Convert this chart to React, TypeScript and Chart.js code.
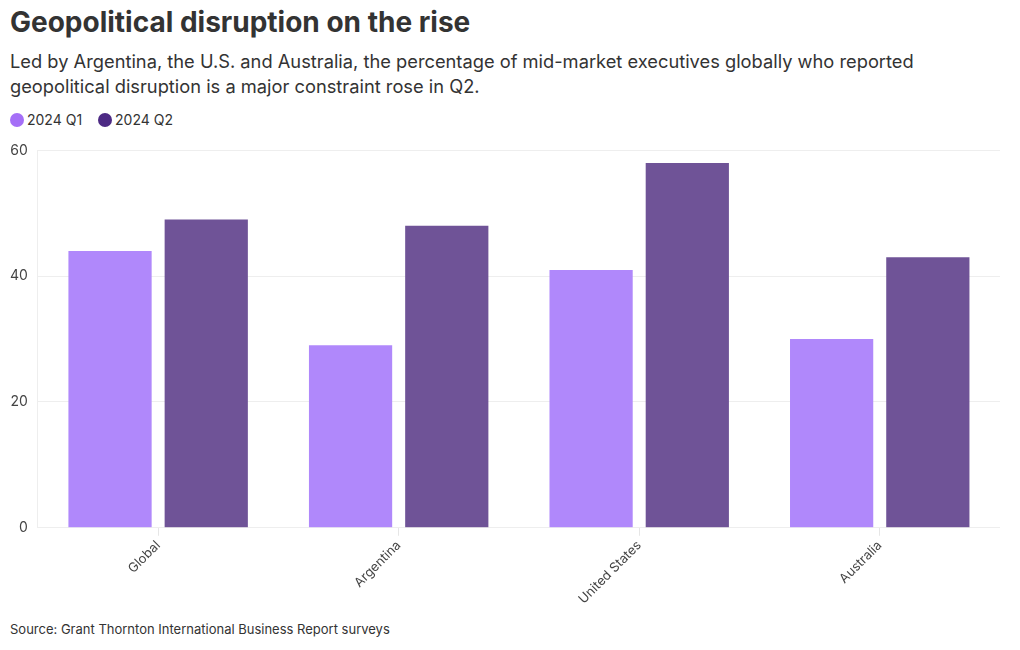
import React, { useEffect, useRef } from "react";
import { Chart, registerables } from "chart.js";

Chart.register(...registerables);

const categories = ["Global", "Argentina", "United States", "Australia"];
const seriesNames = ["2024 Q1", "2024 Q2"];
const q1Values = [44, 29, 41, 30];
const q2Values = [49, 48, 58, 43];
const yTicks = [0, 20, 40, 60];

const FONT = "Inter, 'Noto Sans', sans-serif";
const barColors = ["#b088fb", "#6f5397"];
const legendColors = ["#a56ff7", "#4d2a84"];

export default function App() {
  const ref = useRef<HTMLCanvasElement | null>(null);

  useEffect(() => {
    if (!ref.current) return;
    const chart = new Chart(ref.current, {
      type: "bar",
      data: {
        labels: categories,
        datasets: [
          { label: seriesNames[0], data: q1Values, backgroundColor: barColors[0], categoryPercentage: 0.8, barPercentage: 0.865 },
          { label: seriesNames[1], data: q2Values, backgroundColor: barColors[1], categoryPercentage: 0.8, barPercentage: 0.865 },
        ],
      },
      options: {
        animation: false,
        responsive: false,
        maintainAspectRatio: false,
        layout: { padding: { top: 8, right: 10, left: 0, bottom: 0 } },
        plugins: {
          legend: { display: false },
          tooltip: { enabled: false },
        },
        scales: {
          x: {
            offset: true,
            grid: {
              offset: false,
              drawOnChartArea: false,
              drawTicks: true,
              tickLength: 8,
              color: "#e6e6e6",
            },
            border: { display: false },
            ticks: {
              maxRotation: 45,
              minRotation: 45,
              color: "#444",
              font: { family: FONT, size: 13 },
              padding: 2,
            },
          },
          y: {
            min: 0,
            max: 60,
            afterBuildTicks: (axis: any) => {
              axis.ticks = yTicks.map((v) => ({ value: v }));
            },
            grid: { color: "#eeeeee", drawTicks: false },
            border: { display: true, color: "#eeeeee" },
            ticks: {
              color: "#444",
              font: { family: FONT, size: 14 },
              padding: 10,
            },
          },
        },
      },
    });
    return () => chart.destroy();
  }, []);

  return (
    <div style={{ position: "fixed", left: 0, top: 0, width: 1020, height: 650, background: "#fff", fontFamily: FONT, color: "#333" }}>
      <div style={{ position: "absolute", left: 10, top: 5, fontSize: 28, fontWeight: 700, letterSpacing: 0, color: "#333", whiteSpace: "nowrap" }}>
        Geopolitical disruption on the rise
      </div>
      <div style={{ position: "absolute", left: 10, top: 49, width: 960, fontSize: 18.3, lineHeight: "25px", color: "#333" }}>
        Led by Argentina, the U.S. and Australia, the percentage of mid-market executives globally who reported geopolitical disruption is a major constraint rose in Q2.
      </div>
      <div style={{ position: "absolute", left: 10, top: 111, display: "flex", alignItems: "center", fontSize: 14, color: "#333" }}>
        {seriesNames.map((n, i) => (
          <div key={n} style={{ display: "flex", alignItems: "center", marginRight: 16 }}>
            <span style={{ display: "inline-block", width: 14, height: 14, borderRadius: 7, background: legendColors[i], marginRight: 3 }} />
            <span>{n}</span>
          </div>
        ))}
      </div>
      <canvas ref={ref} width={1010} height={477} style={{ position: "absolute", left: 0, top: 132, width: 1010, height: 477 }} />
      <div style={{ position: "absolute", left: 10, top: 621, fontSize: 13, color: "#333" }}>
        Source: Grant Thornton International Business Report surveys
      </div>
    </div>
  );
}
